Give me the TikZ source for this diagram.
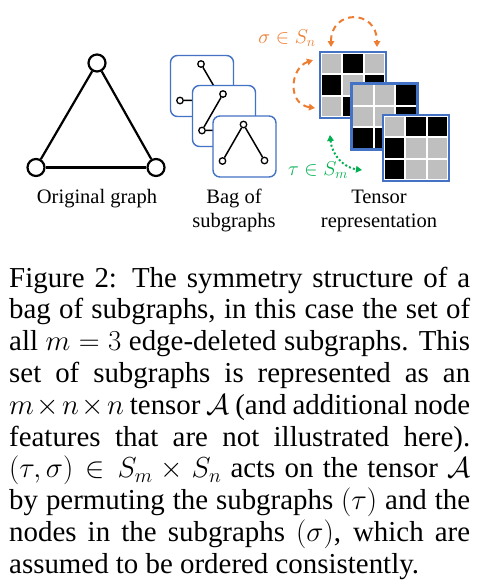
\RequirePackage{fix-cm}
\documentclass[tikz,border=0pt]{standalone}
\usepackage{fontspec}
\setmainfont{Liberation Serif}
\usetikzlibrary{arrows.meta,calc}
\definecolor{boxblue}{HTML}{4472C4}
\definecolor{cellgray}{HTML}{BFBFBF}
\definecolor{sigorange}{HTML}{ED7D31}
\definecolor{taugreen}{HTML}{00B050}
\tikzset{
  gnode/.style={circle, draw, line width=2.2pt, fill=white, minimum size=17pt, inner sep=0pt},
  gedge/.style={line width=2.2pt},
  sgbox/.style={draw=boxblue, line width=1.4pt, rounded corners=7pt, fill=white, minimum width=63pt, minimum height=61pt, inner sep=0pt},
  snode/.style={circle, draw, line width=1.3pt, fill=white, minimum size=6.5pt, inner sep=0pt},
  sedge/.style={line width=1.5pt},
  slice/.style={draw=boxblue, line width=2.4pt, fill=white, minimum size=66pt, inner sep=0pt, outer sep=0pt},
  lbl/.style={inner sep=0pt, font=\fontsize{20.5}{24}\selectfont},
  sigarrow/.style={draw=sigorange, line width=2pt, dash pattern=on 6pt off 4.5pt, >={Triangle[length=6pt,width=6.5pt]}, <->},
  tauarrow/.style={draw=taugreen, line width=2pt, dash pattern=on 2pt off 2.2pt, >={Triangle[length=6pt,width=6.5pt]}, <->},
}
\newcommand\tslice[3]{%
  \node[slice] (#1) at (#2) {};
  \foreach \cl [count=\k from 0] in {#3}{%
    \pgfmathtruncatemacro\rr{\k/3}%
    \pgfmathtruncatemacro\cc{\k-3*\rr}%
    \fill[fill=\cl] ($(#1.north west)+(1.8+21.5*\cc,1.8+21.5*\rr)$) rectangle ++(19.4,19.4);
  }%
}
\begin{document}
\begin{tikzpicture}[x=1pt,y=-1pt]
\useasboundingbox[fill=white] (0,0) rectangle (488,582);

% original graph
\node[gnode] (T) at (97,63) {};
\node[gnode] (L) at (36,167.5) {};
\node[gnode] (R) at (156,167.5) {};
\draw[gedge] (T) -- (L);
\draw[gedge] (T) -- (R);
\draw[gedge] (L) -- (R);
\node[lbl, anchor=base] (og) at (97,203) {Original graph};

% bag of subgraphs
\node[sgbox] (b1) at (202,86) {};
\node[snode] (b1t) at ($(b1.center)+(-1,-22)$) {};
\node[snode] (b1l) at ($(b1.center)+(-22,14.5)$) {};
\node[snode] (b1r) at ($(b1.center)+(20,14)$) {};
\draw[sedge] (b1t) -- (b1r);
\draw[sedge] (b1l) -- (b1r);

\node[sgbox] (b2) at (224,116) {};
\node[snode] (b2t) at ($(b2.center)+(-1,-22)$) {};
\node[snode] (b2l) at ($(b2.center)+(-22,14.5)$) {};
\node[snode] (b2r) at ($(b2.center)+(20,14)$) {};
\draw[sedge] (b2t) -- (b2l);
\draw[sedge] (b2l) -- (b2r);

\node[sgbox] (b3) at (244.5,146.5) {};
\node[snode] (b3t) at ($(b3.center)+(-1,-22)$) {};
\node[snode] (b3l) at ($(b3.center)+(-22,14.5)$) {};
\node[snode] (b3r) at ($(b3.center)+(20,14)$) {};
\draw[sedge] (b3t) -- (b3l);
\draw[sedge] (b3t) -- (b3r);

\node[lbl, anchor=base] (bag) at (234,203) {\begin{tabular}[t]{@{}c@{}}Bag of\\subgraphs\end{tabular}};

% tensor
\tslice{m1}{353,85}{cellgray,black,cellgray,black,cellgray,black,cellgray,black,cellgray}
\tslice{m2}{384.5,116.5}{cellgray,cellgray,black,cellgray,cellgray,black,black,black,cellgray}
\tslice{m3}{416,148}{cellgray,black,black,black,cellgray,cellgray,black,cellgray,cellgray}

\node[lbl, anchor=base] (ten) at (379,203) {\begin{tabular}[t]{@{}c@{}}Tensor\\representation\end{tabular}};

% permutation arrows
\coordinate (sa) at (331,47);
\coordinate (sb) at (377,47);
\coordinate (sc) at (313,60);
\coordinate (sd) at (315,108);
\coordinate (ta) at (330,135);
\coordinate (tb) at (362,170);
\draw[sigarrow] (sa) .. controls (331,9) and (377,9) .. (sb);
\draw[sigarrow] (sc) .. controls (290,68) and (287,104) .. (sd);
\draw[tauarrow] (ta) .. controls (332,156) and (345,168) .. (tb);
\node[anchor=base, inner sep=0pt, text=sigorange, font=\fontsize{20}{24}\selectfont] (sig) at (287,43) {$\sigma\in S_n$};
\node[anchor=base, inner sep=0pt, text=taugreen, font=\fontsize{20}{24}\selectfont] (tau) at (318,175) {$\tau\in S_m$};

% caption
\node[anchor=base west, inner sep=0pt, font=\fontsize{28.9}{31.8}\selectfont] (cap) at (9,287) {\parbox[t]{461pt}{\hyphenpenalty=10000\exhyphenpenalty=10000
Figure 2: The symmetry structure of a\linebreak
bag of subgraphs, in this case the set of\linebreak
all $m=3$ edge-deleted subgraphs. This\linebreak
set of subgraphs is represented as an\linebreak
$m\times n\times n$ tensor $\mathcal{A}$ (and additional node\linebreak
features that are not illustrated here).\linebreak
$(\tau,\sigma)\in S_m\times S_n$ acts on the tensor $\mathcal{A}$\linebreak
by permuting the subgraphs $(\tau)$ and the\linebreak
nodes in the subgraphs $(\sigma)$, which are\linebreak
assumed to be ordered consistently.}};
\end{tikzpicture}
\end{document}
